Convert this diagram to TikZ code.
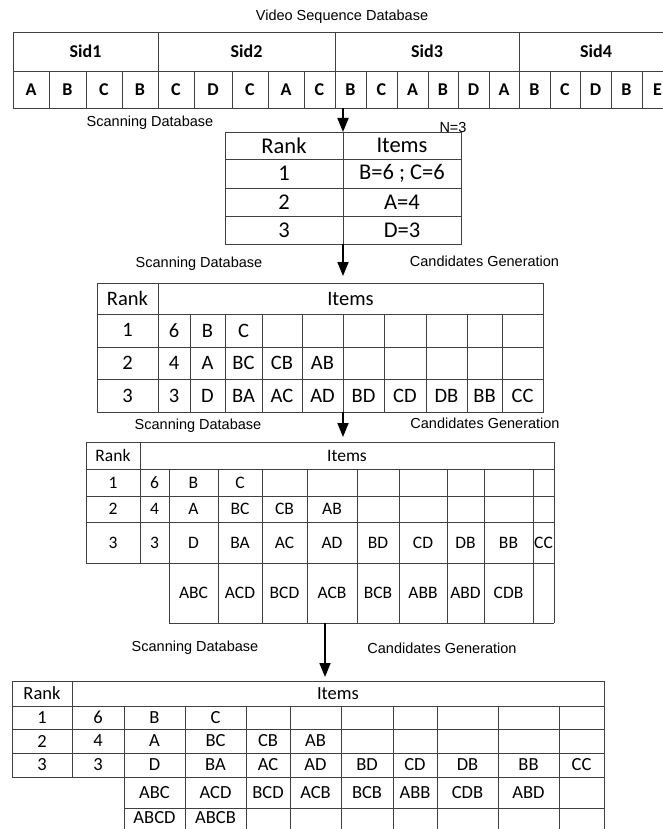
\documentclass[tikz,border=0pt]{standalone}
\usepackage{fontspec}
\setmainfont{Carlito}
\newfontfamily\arialfont{Liberation Sans}
\usetikzlibrary{arrows.meta}

\tikzset{
  gridline/.style={draw=black!75, line width=0.9pt},
  lbl/.style={font=\arialfont\fontsize{14.5}{17}\selectfont, inner sep=0pt},
  seqcell/.style={font=\bfseries\fontsize{18}{21}\selectfont, inner sep=0pt},
  tabA/.style={font=\fontsize{22.5}{26}\selectfont, inner sep=0pt},
  tabB/.style={font=\fontsize{20.5}{24}\selectfont, inner sep=0pt},
  tabC/.style={font=\fontsize{17.5}{20}\selectfont, inner sep=0pt},
  tabD/.style={font=\fontsize{18.5}{21}\selectfont, inner sep=0pt},
  flow/.style={line width=1.7pt, -{Triangle[length=14pt,width=11pt]}}
}

\begin{document}
\begin{tikzpicture}[x=1pt, y=-1pt]
\useasboundingbox (0,0) rectangle (662,829);

\node[lbl] (vsd) at (342,17) {Video Sequence Database};
\draw[gridline] (13,32) -- (690,32) (13,71) -- (690,71) (13,108) -- (690,108);
\draw[gridline] (13,32) -- (13,71);
\foreach \a/\b/\lab in {13/158/Sid1,158/335/Sid2,335/519/Sid3,519/673/Sid4}
  {\draw[gridline] (\a,32) -- (\a,71); \node[seqcell] (\lab) at ({(\a+\b)/2},51.5) {\lab};}
\foreach \a/\b/\lab [count=\i] in {13/49/A,49/86/B,86/122/C,122/158/B,158/194/C,194/232/D,232/268/C,268/304/A,304/335/C,335/366/B,366/397/C,397/428/A,428/458/B,458/489/D,489/519/A,519/550/B,550/580/C,580/611/D,611/642/B,642/673/E}
  {\draw[gridline] (\a,71) -- (\a,108); \node[seqcell] (v\i) at ({(\a+\b)/2},89.5) {\lab};}

\node[lbl] (scan0) at (150,123) {Scanning Database};
\node[lbl] (n3) at (453,127.5) {N=3};
\coordinate (a0) at (343,108);
\coordinate (b0) at (343,132);
\draw[flow] (a0) -- (b0);

\draw[gridline] (225,132) rectangle (461,244);
\draw[gridline] (343,132) -- (343,244);
\foreach \y in {159,188,216} \draw[gridline] (225,\y) -- (461,\y);
\node[tabA] (ra0) at (284,145.5) {Rank};
\node[tabA] (ia0) at (402,145.5) {Items};
\node[tabA] (ra1) at (284,173.5) {1};
\node[tabA] (ia1) at (402,173.5) {B=6 ; C=6};
\node[tabA] (ra2) at (284,202) {2};
\node[tabA] (ia2) at (402,202) {A=4};
\node[tabA] (ra3) at (284,230) {3};
\node[tabA] (ia3) at (402,230) {D=3};

\node[lbl] (scan1) at (199,264) {Scanning Database};
\node[lbl] (cand1) at (484.5,261) {Candidates Generation};
\coordinate (a1) at (343,244);
\coordinate (b1) at (343,276);
\draw[flow] (a1) -- (b1);

\draw[gridline] (97,283) rectangle (543,412);
\draw[gridline] (158,283) -- (158,412);
\foreach \y in {314,347,379} \draw[gridline] (97,\y) -- (543,\y);
\foreach \x in {190,225,262,302,343,384,426,467,502} \draw[gridline] (\x,314) -- (\x,412);
\node[tabB] (rb0) at (127.5,298.5) {Rank};
\node[tabB] (ib0) at (350.5,298.5) {Items};
\foreach \lab [count=\i] in {1,2,3}
  \node[tabB] (rb\i) at (127.5,{297+33*\i}) {\lab};
\foreach \x/\lab [count=\i] in {174/6,207.5/B,243.5/C}
  \node[tabB] (b1-\i) at (\x,330.5) {\lab};
\foreach \x/\lab [count=\i] in {174/4,207.5/A,243.5/BC,282/CB,322.5/AB}
  \node[tabB] (b2-\i) at (\x,363) {\lab};
\foreach \x/\lab [count=\i] in {174/3,207.5/D,243.5/BA,282/AC,322.5/AD,363.5/BD,405/CD,446.5/DB,484.5/BB,522.5/CC}
  \node[tabB] (b3-\i) at (\x,395.5) {\lab};

\node[lbl] (scan2) at (198,426) {Scanning Database};
\node[lbl] (cand2) at (485,423) {Candidates Generation};
\coordinate (a2) at (343,412);
\coordinate (b2) at (343,437);
\draw[flow] (a2) -- (b2);

\draw[gridline] (86,442) -- (554,442) (86,469) -- (554,469) (86,496) -- (554,496)
  (86,522) -- (554,522) (86,563) -- (554,563) (169,623) -- (554,623);
\draw[gridline] (86,442) -- (86,563) (140,442) -- (140,563) (554,442) -- (554,623);
\foreach \x in {169,218,262,307,357,399,447,484,533} \draw[gridline] (\x,469) -- (\x,623);
\node[tabC] (rc0) at (113,455.5) {Rank};
\node[tabC] (ic0) at (347,455.5) {Items};
\node[tabC] (rc1) at (113,482.5) {1};
\node[tabC] (rc2) at (113,509) {2};
\node[tabC] (rc3) at (113,542.5) {3};
\foreach \x/\lab [count=\i] in {154.5/6,193.5/B,240/C}
  \node[tabC] (c1-\i) at (\x,482.5) {\lab};
\foreach \x/\lab [count=\i] in {154.5/4,193.5/A,240/BC,284.5/CB,332/AB}
  \node[tabC] (c2-\i) at (\x,509) {\lab};
\foreach \x/\lab [count=\i] in {154.5/3,193.5/D,240/BA,284.5/AC,332/AD,378/BD,423/CD,465.5/DB,508.5/BB,543.5/CC}
  \node[tabC] (c3-\i) at (\x,542.5) {\lab};
\foreach \x/\lab [count=\i] in {193.5/ABC,240/ACD,284.5/BCD,332/ACB,378/BCB,423/ABB,465.5/ABD,508.5/CDB}
  \node[tabC] (c4-\i) at (\x,593) {\lab};

\node[lbl] (scan3) at (195,648) {Scanning Database};
\node[lbl] (cand3) at (442,648) {Candidates Generation};
\coordinate (a3) at (325,623);
\coordinate (b3) at (325,677);
\draw[flow] (a3) -- (b3);

\draw[gridline] (12,681) -- (604,681) (12,706) -- (604,706) (12,729) -- (604,729)
  (12,753) -- (604,753) (12,777) -- (604,777) (124,808) -- (604,808);
\draw[gridline] (12,681) -- (12,777) (72,681) -- (72,777) (604,681) -- (604,845);
\foreach \x in {124,185,246,290,341,393,437,498,559} \draw[gridline] (\x,706) -- (\x,845);
\node[tabD] (rd0) at (42,693.5) {Rank};
\node[tabD] (id0) at (338,693.5) {Items};
\node[tabD] (rd1) at (42,717.5) {1};
\node[tabD] (rd2) at (42,741) {2};
\node[tabD] (rd3) at (42,765) {3};
\foreach \x/\lab [count=\i] in {98/6,154.5/B,215.5/C}
  \node[tabD] (d1-\i) at (\x,717.5) {\lab};
\foreach \x/\lab [count=\i] in {98/4,154.5/A,215.5/BC,268/CB,315.5/AB}
  \node[tabD] (d2-\i) at (\x,741) {\lab};
\foreach \x/\lab [count=\i] in {98/3,154.5/D,215.5/BA,268/AC,315.5/AD,367/BD,415/CD,467.5/DB,528.5/BB,581.5/CC}
  \node[tabD] (d3-\i) at (\x,765) {\lab};
\foreach \x/\lab [count=\i] in {154.5/ABC,215.5/ACD,268/BCD,315.5/ACB,367/BCB,415/ABB,467.5/CDB,528.5/ABD}
  \node[tabD] (d4-\i) at (\x,792.5) {\lab};
\foreach \x/\lab [count=\i] in {154.5/ABCD,215.5/ABCB}
  \node[tabD] (d5-\i) at (\x,817.5) {\lab};
\end{tikzpicture}
\end{document}
